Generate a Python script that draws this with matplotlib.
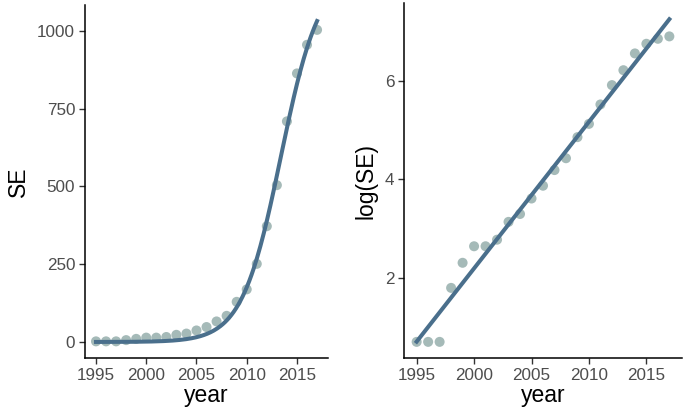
import numpy as np
import matplotlib
matplotlib.use("Agg")
import matplotlib.pyplot as plt

plt.rcParams['font.family'] = ['Liberation Sans', 'DejaVu Sans']

# data
year = np.arange(1995, 2018)
se = np.array([2, 2, 2, 6, 10, 14, 14, 16, 23, 27, 37, 48, 66, 84,
               129, 169, 251, 372, 504, 709, 863, 955, 1003])

point_col = '#8fa9a7'
line_col = '#4a6f8c'
tick_col = '#4d4d4d'


def logistic(p, t):
    K, r, t0 = p
    return K / (1 + np.exp(-r * (t - t0)))


def fit_logistic(t, y, p):
    # small Levenberg-Marquardt loop, nls-like
    p = np.array(p, dtype=float)
    lam = 1e-3
    for _ in range(200):
        f = logistic(p, t)
        K, r, t0 = p
        e = np.exp(-r * (t - t0))
        d = 1 + e
        J = np.column_stack([1 / d,
                             K * (t - t0) * e / d**2,
                             -K * r * e / d**2])
        res = y - f
        A = J.T @ J
        step = np.linalg.solve(A + lam * np.diag(np.diag(A)), J.T @ res)
        new = p + step
        if np.sum((y - logistic(new, t))**2) < np.sum(res**2):
            p = new
            lam *= 0.3
        else:
            lam *= 10
    return p


params = fit_logistic(year.astype(float), se.astype(float), [1200, 0.5, 2013.5])
tt = np.linspace(year.min(), year.max(), 200)
curve = logistic(params, tt)

logse = np.log(se)
b, a = np.polyfit(year, logse, 1)
line = a + b * year


def style(ax):
    for s in ['top', 'right']:
        ax.spines[s].set_visible(False)
    for s in ['left', 'bottom']:
        ax.spines[s].set_linewidth(1.1)
        ax.spines[s].set_color('black')
    ax.tick_params(length=4, width=1, color='#333333', labelcolor=tick_col,
                   labelsize=12.3, pad=3)


def expand(lo, hi, f=0.05):
    r = hi - lo
    return lo - f * r, hi + f * r


fig = plt.figure(figsize=(6.85, 4.19), dpi=100)
ax1 = fig.add_axes([0.124, 0.1456, 0.355, 0.8425])
ax2 = fig.add_axes([0.5898, 0.1456, 0.4058, 0.847])

ax1.scatter(year, se, s=52, color=point_col, alpha=0.8, edgecolors='none', zorder=2)
ax1.plot(tt, curve, color=line_col, lw=2.9, zorder=3)
ax1.set_xlim(*expand(year.min(), year.max()))
ax1.set_ylim(*expand(min(se.min(), curve.min()), max(se.max(), curve.max())))
ax1.set_xticks([1995, 2000, 2005, 2010, 2015])
ax1.set_yticks([0, 250, 500, 750, 1000])
ax1.set_xlabel('year', fontsize=16.5, labelpad=1)
ax1.set_ylabel('SE', fontsize=16.5, labelpad=5)
style(ax1)

ax2.scatter(year, logse, s=52, color=point_col, alpha=0.8, edgecolors='none', zorder=2)
ax2.plot(year, line, color=line_col, lw=2.9, zorder=3)
ax2.set_xlim(*expand(year.min(), year.max()))
ax2.set_ylim(*expand(min(logse.min(), line.min()), max(logse.max(), line.max())))
ax2.set_xticks([1995, 2000, 2005, 2010, 2015])
ax2.set_yticks([2, 4, 6])
ax2.set_xlabel('year', fontsize=16.5, labelpad=1)
ax2.set_ylabel('log(SE)', fontsize=16.5, labelpad=5)
style(ax2)

fig.savefig('out.png', dpi=100)
